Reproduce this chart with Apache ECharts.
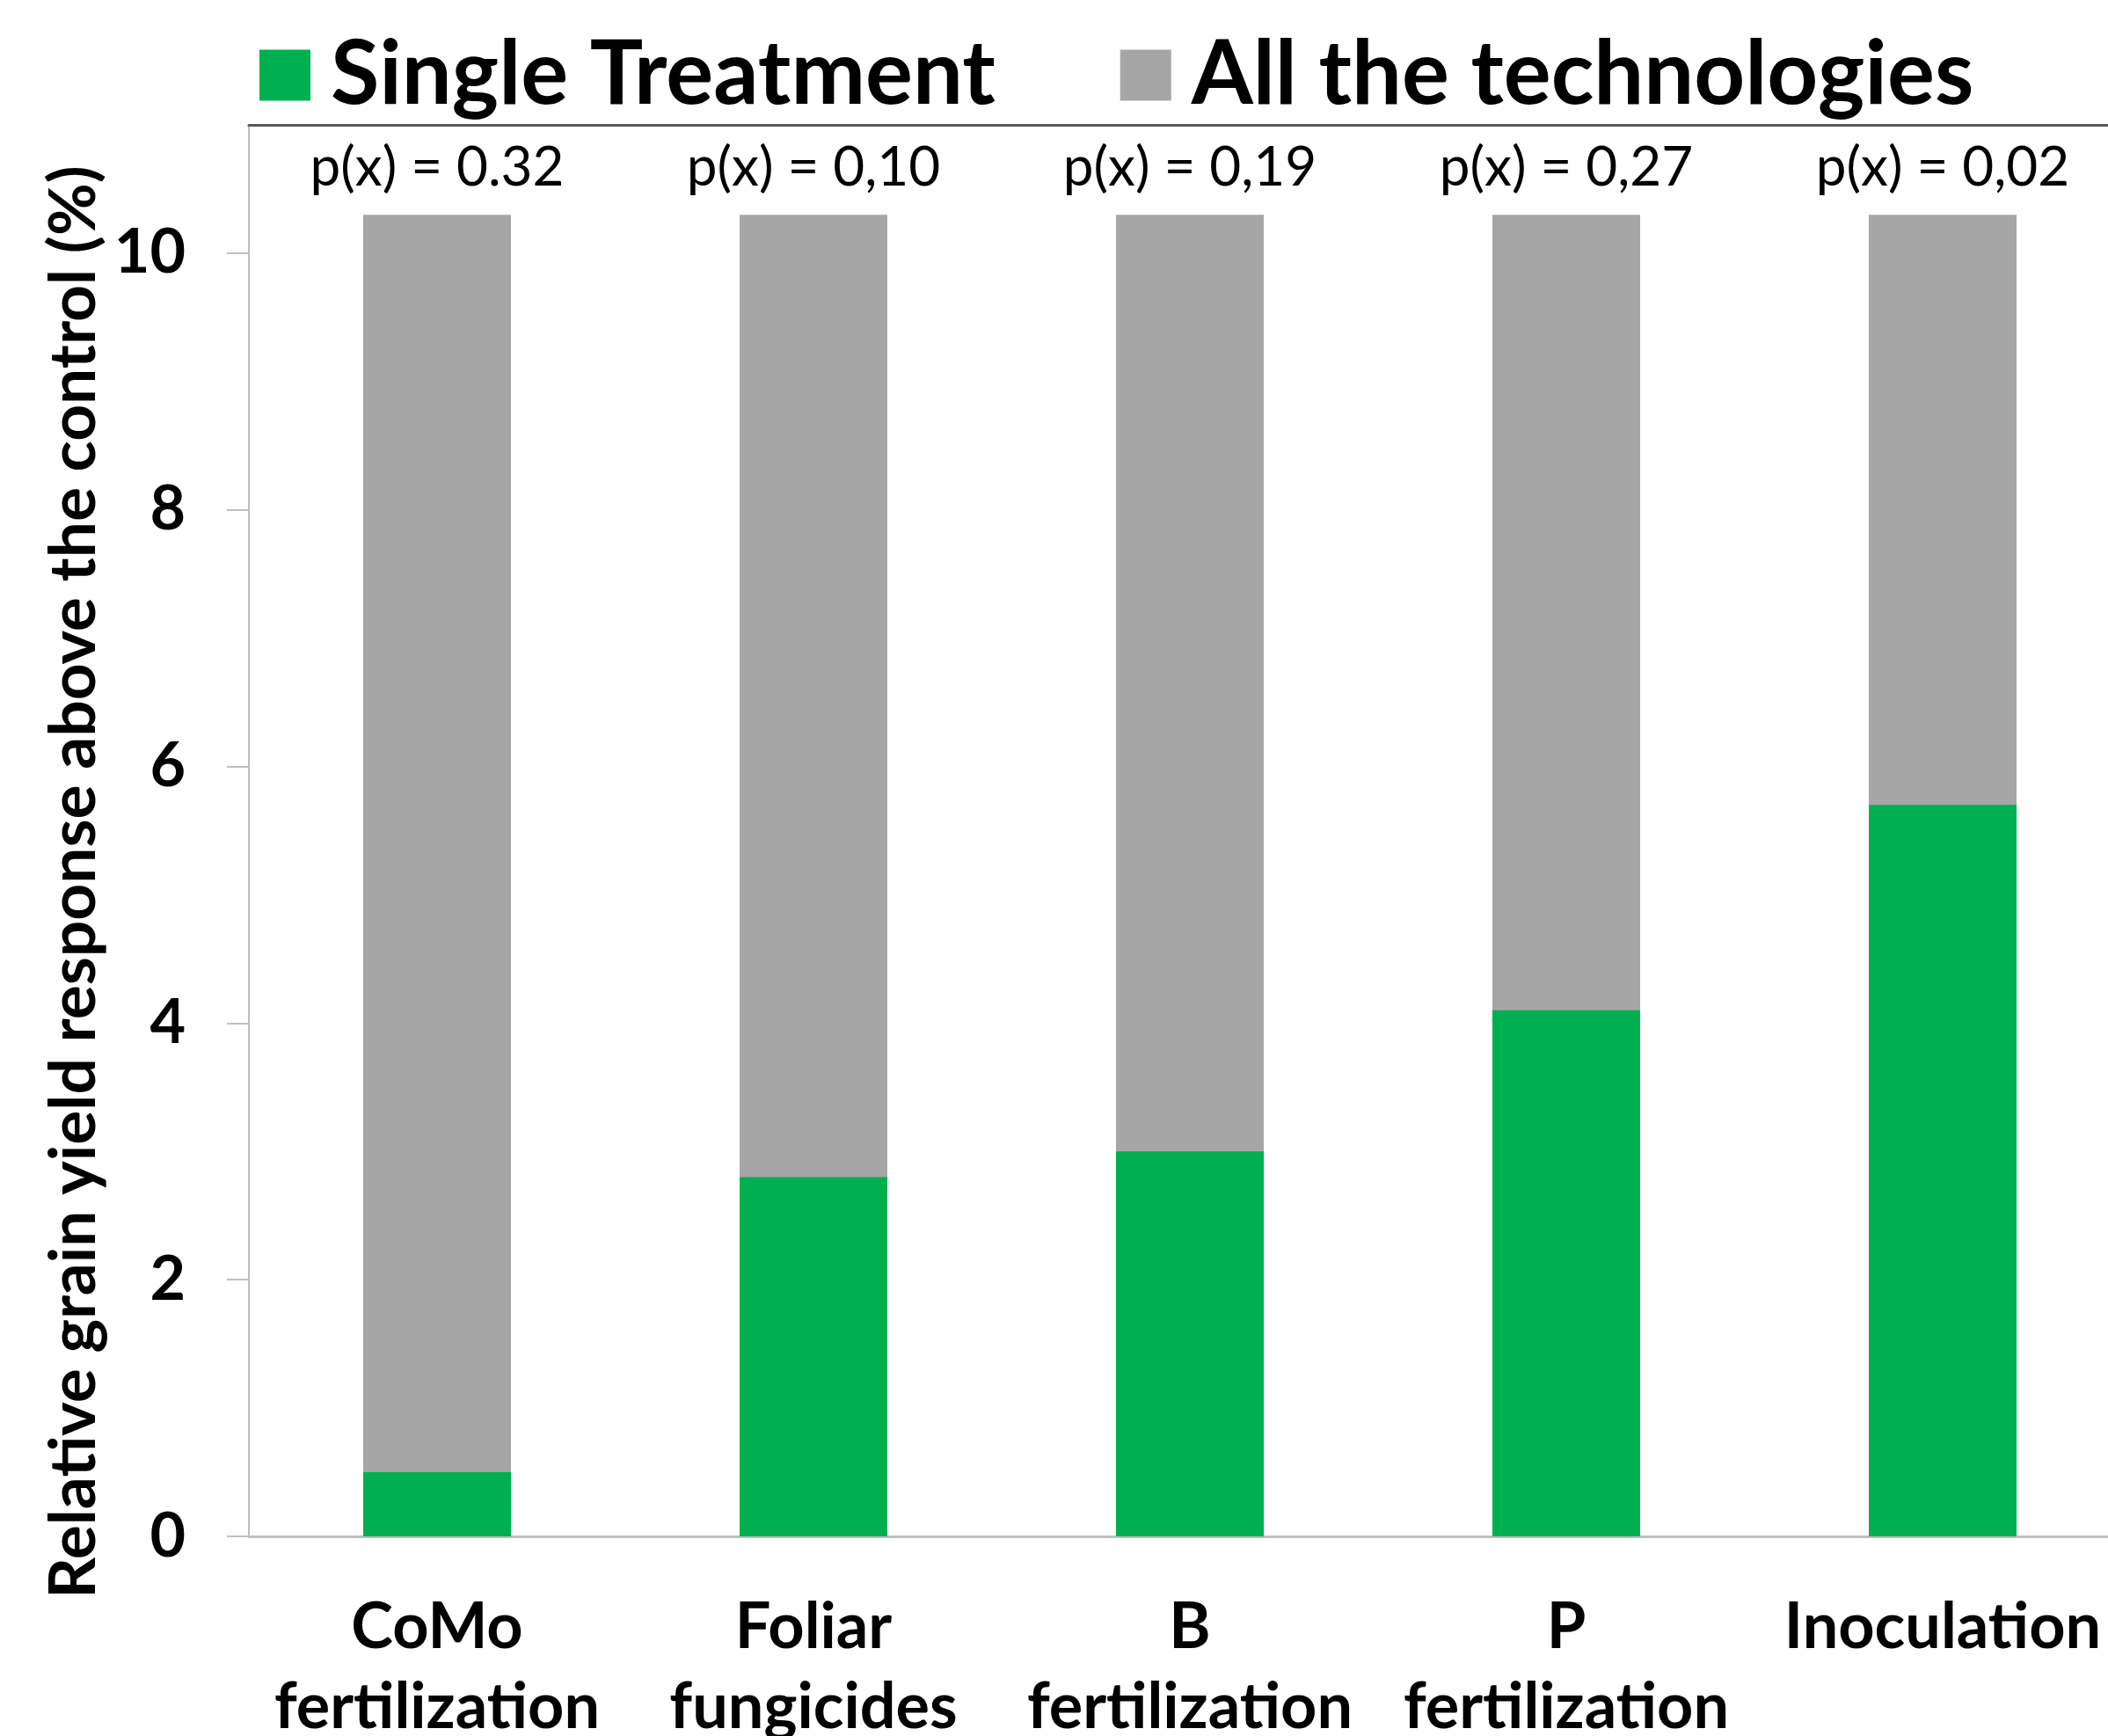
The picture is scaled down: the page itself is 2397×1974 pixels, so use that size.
<!DOCTYPE html>
<html>
<head>
<meta charset="utf-8">
<script src="https://cdn.jsdelivr.net/npm/echarts@6/dist/echarts.min.js"></script>
<style>
  html, body { margin: 0; padding: 0; background: #fff; }
  #chart { width: 2397px; height: 1974px; }
</style>
</head>
<body>
<div id="chart"></div>
<script>
// categories and values
var categories = ['CoMo\nfertilization', 'Foliar\nfungicides', 'B\nfertilization', 'P\nfertilization', 'Inoculation'];
var singleTreatment = [0.5, 2.8, 3.0, 4.1, 5.7];
var allTechnologies = [10.3, 10.3, 10.3, 10.3, 10.3];
var pLabels = ['p(x) = 0.32', 'p(x) = 0,10', 'p(x) = 0,19', 'p(x) = 0,27', 'p(x) = 0,02'];
var yTicks = [0, 2, 4, 6, 8, 10];

var FONT = 'Lato, "Open Sans", sans-serif';

var myChart = echarts.init(document.getElementById('chart'));

var option = {
    backgroundColor: '#ffffff',
    animation: false,
    textStyle: { fontFamily: FONT },
    legend: {
        data: ['Single Treatment', 'All the technologies'],
        left: 290,
        top: 30,
        icon: 'rect',
        itemWidth: 58,
        itemHeight: 58,
        itemGap: 142,
        textStyle: {
            fontFamily: FONT,
            fontSize: 101,
            fontWeight: 'bold',
            color: '#000',
            padding: [0, 0, 0, 18]
        }
    },
    grid: {
        left: 283,
        top: 142,
        right: -26,
        bottom: 227,
        outerBoundsMode: 'none'
    },
    xAxis: [{
        type: 'category',
        data: categories,
        axisLine: { lineStyle: { color: '#bfbfbf', width: 3 } },
        axisTick: { length: 26, lineStyle: { color: '#bfbfbf', width: 2 } },
        axisLabel: {
            interval: 0,
            margin: 58,
            fontFamily: FONT,
            fontSize: 72,
            fontWeight: 'bold',
            lineHeight: 91,
            color: '#000'
        }
    }, {
        // dark line along the top of the plot
        type: 'category',
        position: 'top',
        data: categories,
        axisLine: { lineStyle: { color: '#595959', width: 3 } },
        axisTick: { show: false },
        axisLabel: { show: false }
    }],
    yAxis: {
        type: 'value',
        min: 0,
        max: 11,
        interval: 2,
        splitLine: { show: false },
        axisLine: { show: true, lineStyle: { color: '#bfbfbf', width: 2 } },
        axisTick: {
            show: true,
            length: 25,
            customValues: yTicks,
            lineStyle: { color: '#bfbfbf', width: 2 }
        },
        axisLabel: {
            customValues: yTicks,
            margin: 72,
            fontFamily: FONT,
            fontSize: 70,
            fontWeight: 'bold',
            color: '#000'
        }
    },
    graphic: [{
        type: 'text',
        x: 84,
        y: 1003,
        rotation: Math.PI / 2,
        style: {
            text: 'Relative grain yield response above the control (%)',
            fontFamily: FONT,
            fontSize: 73,
            fontWeight: 'bold',
            fill: '#000',
            align: 'center',
            verticalAlign: 'middle'
        }
    }],
    series: [{
        name: 'All the technologies',
        type: 'bar',
        data: allTechnologies,
        barWidth: 168,
        itemStyle: { color: '#a6a6a6' },
        label: {
            show: true,
            position: 'top',
            distance: 22,
            fontFamily: FONT,
            fontSize: 62,
            color: '#000',
            formatter: function (p) {
                return pLabels[p.dataIndex];
            }
        },
        z: 1
    }, {
        name: 'Single Treatment',
        type: 'bar',
        data: singleTreatment,
        barWidth: 168,
        barGap: '-100%',
        itemStyle: { color: '#00b050' },
        z: 2
    }]
};

myChart.setOption(option);
</script>
</body>
</html>
